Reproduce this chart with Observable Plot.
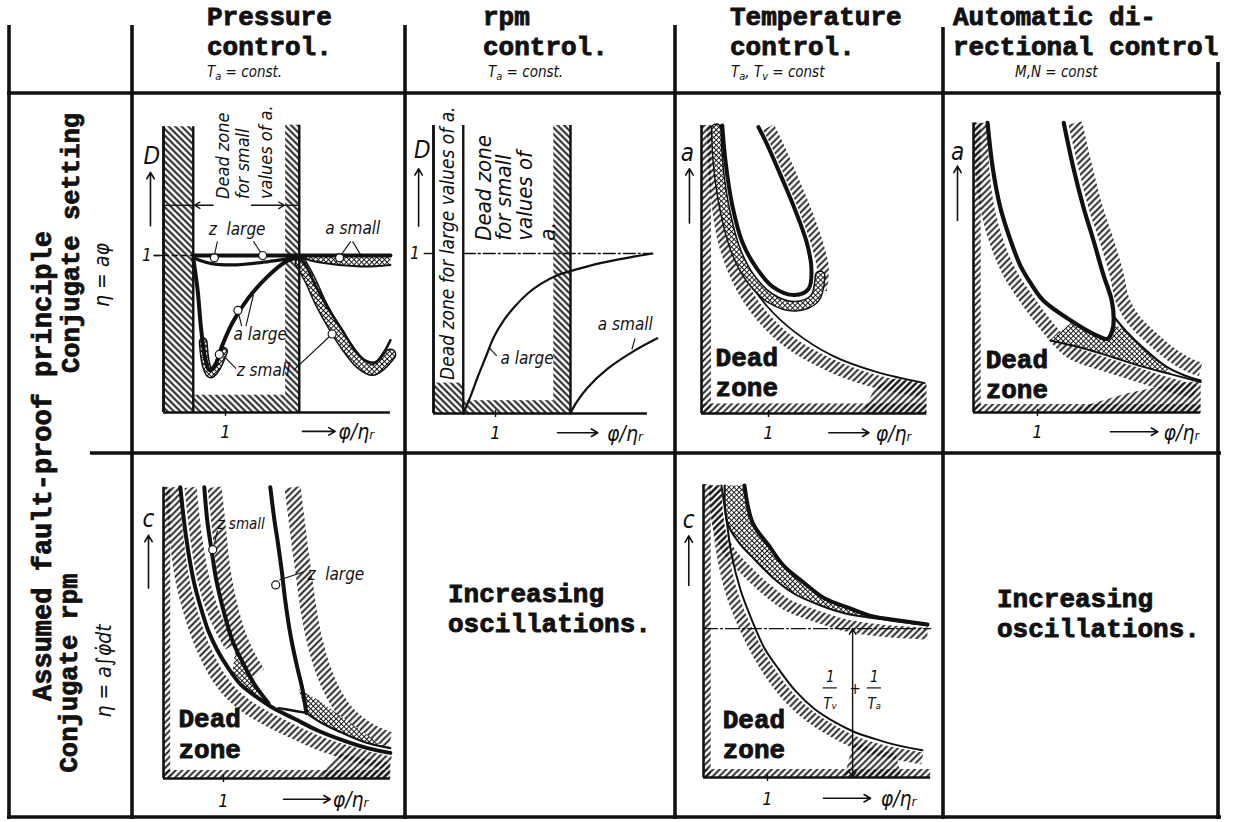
<!DOCTYPE html>
<html><head><meta charset="utf-8">
<script src="https://cdn.jsdelivr.net/npm/d3@7"></script>
<script src="https://cdn.jsdelivr.net/npm/@observablehq/plot@0.6"></script>
<style>
body{margin:0;background:#fff;}
#page{position:relative;width:1233px;height:822px;overflow:hidden;background:#fff;}
.cell{position:absolute;}
</style></head><body>
<svg width="0" height="0" style="position:absolute;left:0;top:0">
<defs>
<pattern id="hA" patternUnits="userSpaceOnUse" width="4.6" height="4.6" patternTransform="rotate(-45)"><line x1="2.3" y1="0" x2="2.3" y2="4.6" stroke="#111" stroke-width="1.9"/></pattern>
<pattern id="hB" patternUnits="userSpaceOnUse" width="4.6" height="4.6" patternTransform="rotate(45)"><line x1="2.3" y1="0" x2="2.3" y2="4.6" stroke="#111" stroke-width="1.8"/></pattern>
<pattern id="xh" patternUnits="userSpaceOnUse" width="3.6" height="3.6" patternTransform="rotate(45)"><rect width="3.6" height="3.6" fill="#fff"/><path d="M0 0H3.6M0 0V3.6" stroke="#111" stroke-width="1.9"/></pattern>
</defs></svg>
<div id="page"></div>
<script>
// ================= DATA =================
const colTitles = [["Pressure","control."],["rpm","control."],["Temperature","control."],["Automatic di-","rectional control"]];
const colSubs = [["T","a"," = const."],["T","a"," = const."],["T","a",", T","v"," = const"],["M,N = const"]];
const rowMain = "Assumed fault-proof principle";
const rowTitles = ["Conjugate setting","Conjugate rpm"];
const rowLaws = ["η = aφ","η = a∫φ̇dt"];
const oscText = ["Increasing","oscillations."];

// Panel 1 - pressure control, conjugate setting (D over φ/ηr)
const p1Zones = [{x1:0,x2:0.48,y1:0,y2:1.82},{x1:1.97,x2:2.19,y1:0,y2:1.83},{x1:0.48,x2:1.97,y1:0,y2:0.11}];
const p1Edges = [[0,0,1.82],[0.48,0,1.82],[2.19,0,1.83]];
const p1One = [[0.48,1],[3.66,1]];
const p1ZLarge = [[0.52,0.98],[0.76,0.95],[1.11,0.94],[1.56,0.955],[2.18,0.99]];
const p1ASmall = [[2.18,0.99],[2.53,0.955],[3.18,0.93],[3.66,0.94],[3.66,1.0],[2.18,1.0]];
const p1DipA = [[0.48,0.98],[0.55,0.78],[0.61,0.52],[0.68,0.33],[0.74,0.27],[0.82,0.29],[0.95,0.43],[1.11,0.57],[1.37,0.73],[1.69,0.87],[1.97,0.96],[2.18,0.99]];
const p1DipABand = [[0.64,0.45],[0.69,0.3],[0.76,0.245],[0.86,0.29],[0.97,0.39]];
const p1DipB = [[2.18,0.99],[2.29,0.94],[2.45,0.81],[2.66,0.66],[2.89,0.52],[3.10,0.39],[3.26,0.33],[3.42,0.32],[3.55,0.38],[3.66,0.46]];
const p1DipBBand = [[2.21,0.955],[2.37,0.84],[2.53,0.70],[2.74,0.55],[2.97,0.41],[3.18,0.31],[3.37,0.27],[3.53,0.31],[3.66,0.37]];
const p1Span = [[0,0.48,1.32],[1.97,2.19,1.32]];
const p1SpanArrows = [[0.8,0.5,1.32],[1.42,1.95,1.32]];
const p1Rot = [{x:0.97,y:1.36,t:"Dead zone"},{x:1.29,y:1.36,t:"for small"},{x:1.65,y:1.36,t:"values of a."}];
const p1Labels = [{x:0.73,y:1.13,t:"z  large"},{x:2.61,y:1.14,t:"a small"},{x:1.13,y:0.46,t:"a large"},{x:1.18,y:0.23,t:"z small"}];
const p1Leaders = [[0.87,1.09,0.82,1.0],[1.45,1.09,1.6,1.0],[3.02,1.09,2.84,0.99],[3.05,1.09,3.2,0.99],[1.26,0.55,1.2,0.65],[1.33,0.55,1.45,0.75],[1.17,0.28,0.97,0.36],[2.1,0.27,2.72,0.5]];
const p1Rings = [[0.82,0.985],[1.6,1.0],[2.84,0.985],[1.2,0.65],[2.72,0.5],[0.9,0.37]];

// Panel 2 - rpm control, conjugate setting
const p2Zones = [{x1:1.94,x2:2.21,y1:0,y2:1.8},{x1:0.48,x2:1.94,y1:0,y2:0.08},{x1:0,x2:0.48,y1:0,y2:0.19}];
const p2Edges = [[0,0,1.8],[0.48,0,1.8],[2.21,0,1.8]];
const p2One = [[0.48,1],[3.53,1]];
const p2ALarge = [[0.48,0],[0.60,0.11],[0.71,0.225],[0.84,0.35],[0.97,0.475],[1.13,0.58],[1.29,0.66],[1.52,0.75],[1.73,0.81],[1.97,0.86],[2.21,0.89],[2.69,0.94],[3.23,0.98],[3.53,1.0]];
const p2ASmall = [[2.21,0],[2.29,0.06],[2.48,0.16],[2.81,0.28],[3.23,0.39],[3.61,0.47]];
const p2Labels = [{x:1.08,y:0.31,t:"a large"},{x:2.65,y:0.52,t:"a small"}];
const p2Leaders = [[0.9,0.41,1.02,0.36],[3.2,0.4,3.25,0.47]];
const p2RotLarge = [{x:0.24,y:0.21,t:"Dead zone for large values of a."}];
const p2RotSmall = [{x:0.81,y:1.08,t:"Dead zone"},{x:1.13,y:1.08,t:"for small"},{x:1.48,y:1.08,t:"values of"},{x:1.84,y:1.08,t:"a."}];

// Panel 3 - temperature control, conjugate setting (a over φ/ηr)
const p3Zones = [{x1:0,x2:0.15,y1:0,y2:1.8},{x1:0,x2:3.36,y1:0,y2:0.06}];
const p3Wedge = [[2.4,0],[3.36,0],[3.36,0.19],[2.9,0.22],[2.6,0.17]];
const p3Outer = [[0.28,1.80],[0.33,1.47],[0.46,1.11],[0.67,0.86],[0.97,0.675],[1.39,0.51],[1.96,0.36],[2.61,0.26],[3.33,0.19]];
const p3OuterBand = [[0.18,1.8],[0.21,1.46],[0.34,1.08],[0.57,0.82],[0.88,0.62],[1.33,0.44],[1.93,0.30],[2.6,0.2],[3.33,0.14]];
const p3Hook = [[0.31,1.80],[0.36,1.57],[0.46,1.30],[0.61,1.07],[0.82,0.91],[1.07,0.79],[1.39,0.74],[1.60,0.78],[1.64,0.91],[1.57,1.07],[1.39,1.28],[1.18,1.49],[0.97,1.69],[0.85,1.79]];
const p3HookBand = [[0.22,1.78],[0.25,1.55],[0.35,1.27],[0.52,1.01],[0.74,0.84],[1.03,0.72],[1.40,0.67],[1.69,0.72],[1.77,0.86]];
const p3HookRight = [[1.0,1.79],[1.12,1.69],[1.33,1.49],[1.54,1.28],[1.72,1.07],[1.81,0.91],[1.78,0.77]];

// Panel 4 - automatic directional control, conjugate setting
const p4Zones = [{x1:0,x2:0.12,y1:0,y2:1.81},{x1:0,x2:3.55,y1:0,y2:0.05}];
const p4Wedge = [[1.5,0],[3.55,0],[3.55,0.2],[3.0,0.17],[2.4,0.12],[1.8,0.05]];
const p4Hook = [[0.22,1.81],[0.30,1.53],[0.42,1.28],[0.58,1.075],[0.73,0.92],[0.89,0.81],[1.09,0.7],[1.52,0.575],[1.88,0.49],[2.09,0.46],[2.16,0.5],[2.19,0.575],[2.16,0.7],[2.03,0.86],[1.875,1.075],[1.72,1.28],[1.56,1.53],[1.41,1.81]];
const p4Lower = [[1.2,0.45],[1.67,0.406],[2.14,0.35],[2.61,0.29],[3.08,0.24],[3.55,0.19]];
const p4Upper = [[2.19,0.6],[2.38,0.51],[2.69,0.39],[3.0,0.29],[3.31,0.23],[3.55,0.2]];
const p4Cross = [[1.2,0.45],[1.52,0.56],[1.88,0.48],[2.09,0.46],[2.17,0.56],[2.38,0.51],[2.69,0.39],[3.0,0.29],[3.08,0.24],[2.61,0.29],[2.14,0.35],[1.67,0.406]];
const p4C1Band = [[0.11,1.81],[0.14,1.51],[0.23,1.25],[0.39,1.03],[0.58,0.86],[0.81,0.72],[1.125,0.55],[1.52,0.38],[1.98,0.31],[2.45,0.25],[3.0,0.18],[3.47,0.13]];
const p4C2Band = [[1.59,1.81],[1.75,1.53],[1.91,1.28],[2.08,1.075],[2.23,0.875],[2.33,0.7],[2.5,0.58],[2.8,0.46],[3.1,0.36],[3.4,0.29],[3.55,0.27]];

// Panel 5 - pressure control, conjugate rpm (c over φ/ηr)
const p5Zones = [{x1:0,x2:0.12,y1:0,y2:1.82},{x1:0,x2:3.78,y1:0,y2:0.05}];
const p5Wedge = [[2.6,0],[3.78,0],[3.78,0.1],[3.3,0.13],[2.9,0.16]];
const p5C1 = [[0.28,1.82],[0.38,1.5],[0.5,1.24],[0.62,1.07],[0.75,0.92],[0.9,0.8],[1.08,0.69],[1.28,0.59],[1.55,0.51],[1.83,0.44],[2.2,0.37],[2.57,0.3],[2.98,0.24],[3.4,0.19],[3.78,0.16]];
const p5C2 = [[0.68,1.82],[0.73,1.61],[0.8,1.43],[0.88,1.24],[1.0,1.05],[1.15,0.86],[1.32,0.725],[1.53,0.58],[1.75,0.47]];
const p5C3 = [[1.78,1.82],[1.85,1.61],[1.9,1.49],[1.97,1.3],[2.03,1.11],[2.12,0.89],[2.22,0.71],[2.32,0.55],[2.38,0.41]];
const p5Knee = [[2.38,0.41],[2.15,0.425],[1.92,0.44]];
const p5Tail = [[2.38,0.41],[2.62,0.35],[2.95,0.29],[3.37,0.225],[3.78,0.19]];
const p5KneeCross = [[2.25,0.56],[2.38,0.41],[2.87,0.30],[3.45,0.21],[3.7,0.19],[3.37,0.28],[2.95,0.39],[2.58,0.49]];
const p5JoinCross = [[1.2,0.82],[1.32,0.725],[1.53,0.58],[1.6,0.5],[1.45,0.54],[1.28,0.59],[1.15,0.66]];
const p5C1BandL = [[0.15,1.82],[0.22,1.49],[0.33,1.21],[0.45,1.04],[0.58,0.89],[0.73,0.76],[0.92,0.63],[1.13,0.53],[1.42,0.44],[1.72,0.375],[2.12,0.3],[2.53,0.23],[2.95,0.175],[3.37,0.13],[3.78,0.094]];
const p5C1BandR = [[0.45,1.82],[0.55,1.49],[0.67,1.24],[0.8,1.07],[0.95,0.94],[1.12,0.825]];
const p5C2Band = [[0.85,1.82],[0.92,1.58],[0.98,1.36],[1.08,1.14],[1.22,0.94],[1.38,0.79],[1.58,0.66]];
const p5C3Band = [[2.15,1.82],[2.22,1.61],[2.28,1.43],[2.35,1.24],[2.42,1.05],[2.52,0.86],[2.65,0.69],[2.82,0.54],[3.05,0.41],[3.37,0.31],[3.7,0.25],[3.78,0.24]];
const p5Labels = [{x:0.9,y:1.56,t:"z small",s:15},{x:2.4,y:1.24,t:"z  large",s:17}];
const p5Rings = [[0.82,1.43],[1.87,1.21]];
const p5Leaders = [[0.85,1.47,0.9,1.55],[1.93,1.24,2.33,1.29]];

// Panel 6 - temperature control, conjugate rpm
const p6Zones = [{x1:0,x2:0.12,y1:0,y2:1.83},{x1:0,x2:3.55,y1:0,y2:0.05}];
const p6Wedge = [[2.2,0],[3.1,0],[3.0,0.15],[2.67,0.18],[2.34,0.22]];
const p6L = [[0.28,1.825],[0.36,1.61],[0.44,1.39],[0.58,1.17],[0.77,0.97],[0.95,0.81],[1.17,0.68],[1.44,0.54],[1.73,0.43],[2.06,0.344],[2.375,0.281],[2.69,0.24],[2.94,0.21],[3.42,0.17]];
const p6LBand = [[0.17,1.825],[0.23,1.59],[0.31,1.37],[0.45,1.14],[0.66,0.93],[0.86,0.77],[1.08,0.63],[1.36,0.49],[1.67,0.38],[2.02,0.29],[2.34,0.225],[2.67,0.18],[2.92,0.156],[3.42,0.119]];
const p6U = [[0.64,1.825],[0.77,1.59],[1.02,1.45],[1.25,1.325],[1.56,1.22],[1.89,1.12],[2.27,1.06],[2.61,1.01],[3.08,0.98],[3.5,0.956]];
const p6U1 = [[0.33,1.825],[0.375,1.59],[0.55,1.47],[0.77,1.375],[1.08,1.25],[1.41,1.15],[1.83,1.075],[2.22,1.025],[2.77,0.99],[3.5,0.95]];
const p6UBand = [[0.2,1.825],[0.23,1.575],[0.39,1.42],[0.625,1.31],[0.94,1.19],[1.3,1.08],[1.75,1.01],[2.17,0.956],[2.77,0.919],[3.5,0.9]];
const p6Level = [[0,0.93],[3.55,0.93]];
const p6Gap = {x:2.33,top:0.93,mid:0.47};
const p6Frac = [{x:1.98,y:0.6,t:"1"},{x:1.98,y:0.43,t:"Tᵥ"},{x:2.67,y:0.6,t:"1"},{x:2.67,y:0.43,t:"Tₐ"},{x:2.37,y:0.52,t:"+"}];
const p6Bars = [[1.87,2.09,0.56],[2.56,2.78,0.56]];

// axis annotations per panel
const axesSpec = [
  {xEnd:3.66,yTop:1.82,name:"D",nx:-0.19,ny:1.58,ux:-0.21,uy:[1.19,1.53],tx:1,ty:-0.16,gx:[2.24,2.77],gy:-0.12,px:2.82,one:{x:-0.27,y:1}},
  {xEnd:3.45,yTop:1.8,name:"D",nx:-0.18,ny:1.6,ux:-0.24,uy:[1.17,1.53],tx:1,ty:-0.16,gx:[2.0,2.65],gy:-0.12,px:2.8,one:{x:-0.3,y:1}},
  {xEnd:3.36,yTop:1.8,name:"a",nx:-0.21,ny:1.58,ux:-0.18,uy:[1.19,1.53],tx:1,ty:-0.16,gx:[1.9,2.5],gy:-0.12,px:2.6},
  {xEnd:3.55,yTop:1.81,name:"a",nx:-0.25,ny:1.58,ux:-0.25,uy:[1.2,1.54],tx:1,ty:-0.16,gx:[2.14,2.88],gy:-0.12,px:2.97},
  {xEnd:3.78,yTop:1.82,name:"c",nx:-0.25,ny:1.57,ux:-0.25,uy:[1.19,1.52],tx:1,ty:-0.18,gx:[2.0,2.78],gy:-0.13,px:2.82},
  {xEnd:3.55,yTop:1.83,name:"c",nx:-0.23,ny:1.56,ux:-0.23,uy:[1.2,1.51],tx:1,ty:-0.17,gx:[1.875,2.61],gy:-0.13,px:2.77}
];
const deadText = [{x:0.21,y:0.30},{x:0.19,y:0.28},{x:0.25,y:0.32},{x:0.3,y:0.31}];

// ================= LAYOUT =================
const INK = "#111";
function pickFont(cands, weight, fallback) {
  const c = document.createElement("canvas").getContext("2d");
  const sample = "Pressure control. mmmwwwiiilll 0123 Dead zone";
  const gens = ["monospace","serif","sans-serif"], base = {};
  for (const g of gens) { c.font = `${weight} 30px ${g}`; base[g] = c.measureText(sample).width; }
  for (const f of cands) {
    for (const g of gens) { c.font = `${weight} 30px "${f}", ${g}`; if (Math.abs(c.measureText(sample).width - base[g]) > 0.01) return `"${f}", ${fallback}`; }
  }
  return fallback;
}
const MONO = pickFont(["Liberation Mono","Courier New","Cousine","Nimbus Mono PS","FreeMono","Courier"],"bold",'"DejaVu Sans Mono", monospace');
const SANS = pickFont(["Liberation Sans Narrow","Arial Narrow","DejaVu Sans Condensed","Roboto Condensed","Liberation Sans","Arial"],"normal",'"DejaVu Sans", sans-serif');
const cells = [[132,93,273,360],[405,93,270,360],[675,93,268,360],[943,93,275,360],[132,453,273,364],[675,453,268,364]];
const origins = [[163,412],[433,413],[701,413],[973,412],[163,778],[703,777]];
const scales = [[62,157],[62,160],[67,160],[64,160],[60,160],[64,160]];

const page = d3.select("#page");

// ---- table grid and headings ----
const ov = page.append("svg").attr("width",1233).attr("height",822).style("position","absolute").style("left","0").style("top","0");
const vLines = [[9,25,819],[132,25,819],[405,25,819],[675,25,819],[943,27,819],[1218,62,819]];
const hLines = [[93,7,1221],[453,90,1221],[817,7,1221]];
ov.selectAll("line.v").data(vLines).join("line").attr("x1",d=>d[0]).attr("x2",d=>d[0]).attr("y1",d=>d[1]).attr("y2",d=>d[2]).attr("stroke",INK).attr("stroke-width",3.6);
ov.selectAll("line.h").data(hLines).join("line").attr("y1",d=>d[0]).attr("y2",d=>d[0]).attr("x1",d=>d[1]).attr("x2",d=>d[2]).attr("stroke",INK).attr("stroke-width",3.6);

const titleX = [207,483,730,953];
colTitles.forEach((lines,i)=>{
  lines.forEach((s,j)=>{
    ov.append("text").attr("x",titleX[i]).attr("y",25+30*j).text(s)
      .attr("font-family",MONO).attr("font-weight","bold").attr("font-size",26)
      .attr("fill",INK).attr("stroke",INK).attr("stroke-width",0.9).style("white-space","pre");
  });
});
const subX = [207,488,731,1015];
colSubs.forEach((parts,i)=>{
  const t = ov.append("text").attr("x",subX[i]).attr("y",77).attr("font-family",SANS).attr("font-style","italic").attr("font-size",15).attr("fill",INK);
  if (parts.length===1) { t.text(parts[0]); return; }
  parts.forEach((p,k)=>{
    const sub = k%2===1;
    t.append("tspan").text(p).attr("font-size",sub?11:15).attr("dy",sub?3:(k>0?-3:0));
  });
});
const rot = (x,y,s,size,opts={}) => ov.append("text").attr("transform",`translate(${x},${y}) rotate(-90)`).attr("text-anchor","middle").text(s)
  .attr("font-family",opts.family||MONO).attr("font-weight",opts.weight||"bold").attr("font-style",opts.style||"normal")
  .attr("font-size",size).attr("fill",INK).attr("stroke",opts.family?null:INK).attr("stroke-width",opts.family?null:0.8);
rot(51,466,rowMain,27);
rot(79,243,rowTitles[0],25.5);
rot(77,673,rowTitles[1],25.5);
rot(109,275,rowLaws[0],21,{family:SANS,weight:"normal",style:"italic"});
rot(111,671,rowLaws[1],21,{family:SANS,weight:"normal",style:"italic"});
[[448,602],[997,607]].forEach(([x,y])=>{
  oscText.forEach((s,j)=>ov.append("text").attr("x",x).attr("y",y+30*j).text(s)
    .attr("font-family",MONO).attr("font-weight","bold").attr("font-size",26).attr("fill",INK).attr("stroke",INK).attr("stroke-width",0.9));
});

// ---- mark helpers ----
const cr = "catmull-rom";
const curve = (d,w) => Plot.line(d,{curve:cr,stroke:INK,strokeWidth:w,strokeLinecap:"round",strokeLinejoin:"round"});
const band = (d,w,pat="hB") => Plot.line(d,{curve:cr,stroke:`url(#${pat})`,strokeWidth:w,strokeLinecap:"butt",strokeLinejoin:"round"});
const xband = (d,w) => [Plot.line(d,{curve:cr,stroke:INK,strokeWidth:w+3,strokeLinecap:"round"}),Plot.line(d,{curve:cr,stroke:"url(#xh)",strokeWidth:w,strokeLinecap:"round"})];
const poly = (d,pat) => Plot.line(d,{curve:"linear-closed",fill:`url(#${pat})`,stroke:"none"});
const zones = (d,pat) => Plot.rect(d,{x1:"x1",x2:"x2",y1:"y1",y2:"y2",fill:`url(#${pat})`});
const edges = (d,w=2.4) => Plot.ruleX(d,{x:d=>d[0],y1:d=>d[1],y2:d=>d[2],stroke:INK,strokeWidth:w});
const links = (d,w=1.1) => Plot.link(d,{x1:d=>d[0],y1:d=>d[1],x2:d=>d[2],y2:d=>d[3],stroke:INK,strokeWidth:w});
const rings = (d) => Plot.dot(d,{r:4,stroke:INK,strokeWidth:1.2,fill:"white"});
const labels = (d,o={}) => Plot.text(d,{x:"x",y:"y",text:"t",fill:INK,fontFamily:SANS,fontStyle:"italic",fontSize:17,textAnchor:"start",lineAnchor:"bottom",...o});
const dead = (p) => Plot.text([{t:"Dead",dy:0},{t:"zone",dy:1}],{x:p.x,y:d=>p.y-d.dy*0.19,text:"t",fill:INK,stroke:INK,strokeWidth:0.9,fontFamily:MONO,fontWeight:"bold",fontSize:26,textAnchor:"start",lineAnchor:"bottom"});

function axes(a){
  const m = [
    Plot.ruleY([0],{x1:0,x2:a.xEnd,stroke:INK,strokeWidth:2.6}),
    Plot.ruleX([0],{y1:0,y2:a.yTop,stroke:INK,strokeWidth:2.6}),
    Plot.text([a.name],{x:a.nx,y:a.ny,text:d=>d,fill:INK,fontFamily:SANS,fontStyle:"italic",fontSize:24,lineAnchor:"bottom"}),
    Plot.arrow([0],{x1:a.ux,x2:a.ux,y1:a.uy[0],y2:a.uy[1],stroke:INK,strokeWidth:1.6,headLength:7}),
    Plot.ruleX([a.tx],{y1:-0.025,y2:0.02,stroke:INK,strokeWidth:1.4}),
    Plot.text(["1"],{x:a.tx,y:a.ty,text:d=>d,fill:INK,fontFamily:SANS,fontStyle:"italic",fontSize:18,lineAnchor:"bottom"}),
    Plot.arrow([0],{x1:a.gx[0],x2:a.gx[1],y1:a.gy,y2:a.gy,stroke:INK,strokeWidth:1.6,headLength:7}),
    Plot.text(["φ/ηᵣ"],{x:a.px,y:a.gy-0.05,text:d=>d,fill:INK,fontFamily:SANS,fontStyle:"italic",fontSize:21,textAnchor:"start",lineAnchor:"bottom"})
  ];
  if (a.one) m.push(
    Plot.text(["1"],{x:a.one.x,y:a.one.y,text:d=>d,fill:INK,fontFamily:SANS,fontStyle:"italic",fontSize:17}),
    Plot.ruleY([a.one.y],{x1:-0.15,x2:0,stroke:INK,strokeWidth:1.4}));
  return m;
}

function panel(i, marks){
  const [cx,cy,cw,ch] = cells[i], [ox,oy] = origins[i], [sx,sy] = scales[i];
  const ml = ox-cx, mb = cy+ch-oy;
  const svg = Plot.plot({
    width:cw, height:ch, marginLeft:ml, marginRight:0, marginTop:0, marginBottom:mb,
    x:{domain:[0,(cw-ml)/sx], axis:null},
    y:{domain:[0,(oy-cy)/sy], axis:null},
    style:{background:"transparent", overflow:"visible"},
    marks
  });
  page.append("div").attr("class","cell").style("left",cx+"px").style("top",cy+"px").node().appendChild(svg);
}

panel(0,[
  zones(p1Zones,"hA"),
  poly(p1ASmall,"xh"),
  xband(p1DipABand,6), xband(p1DipBBand,9),
  edges(p1Edges),
  Plot.ruleY([1],{x1:-0.15,x2:0.48,stroke:INK,strokeWidth:1.3,strokeDasharray:"6 3"}),
  curve(p1One,4), curve(p1ZLarge,3.2), curve(p1ASmall.slice(0,4),2), curve(p1DipA,4), curve(p1DipB,2.6),
  Plot.ruleY(p1Span,{x1:d=>d[0],x2:d=>d[1],y:d=>d[2],stroke:INK,strokeWidth:1.3}),
  Plot.arrow(p1SpanArrows,{x1:d=>d[0],x2:d=>d[1],y1:d=>d[2],y2:d=>d[2],stroke:INK,strokeWidth:1.4,headLength:7}),
  links(p1Leaders), rings(p1Rings),
  labels(p1Rot,{rotate:-90,lineAnchor:"middle",fontSize:18}),
  labels(p1Labels),
  ...axes(axesSpec[0])
]);

panel(1,[
  zones(p2Zones,"hA"),
  edges(p2Edges),
  Plot.line(p2One,{stroke:INK,strokeWidth:1.3,strokeDasharray:"12 3 2 3"}),
  curve(p2ALarge,2.2), curve(p2ASmall,2.2),
  links(p2Leaders),
  labels(p2Labels),
  labels(p2RotLarge,{rotate:-90,lineAnchor:"middle",fontSize:19}),
  labels(p2RotSmall,{rotate:-90,lineAnchor:"middle",fontSize:22}),
  ...axes(axesSpec[1])
]);

panel(2,[
  zones(p3Zones,"hB"), poly(p3Wedge,"hB"),
  band(p3OuterBand,13), band(p3HookRight,12),
  curve(p3Outer,1.8),
  xband(p3HookBand,8),
  curve(p3Hook,4),
  dead(deadText[0]),
  ...axes(axesSpec[2])
]);

panel(3,[
  zones(p4Zones,"hB"), poly(p4Wedge,"hB"),
  band(p4C1Band,14), band(p4C2Band,14),
  poly(p4Cross,"xh"),
  curve(p4Lower,2), curve(p4Upper,2.2),
  curve(p4Hook,4.2),
  dead(deadText[1]),
  ...axes(axesSpec[3])
]);

panel(4,[
  zones(p5Zones,"hB"), poly(p5Wedge,"hB"),
  band(p5C1BandL,14), band(p5C1BandR,12), band(p5C2Band,14), band(p5C3Band,16),
  poly(p5KneeCross,"xh"), poly(p5JoinCross,"xh"),
  curve(p5C1,4), curve(p5C2,4), curve(p5C3,4), curve(p5Knee,2.4), curve(p5Tail,2.2),
  links(p5Leaders), rings(p5Rings),
  labels(p5Labels,{fontSize:d=>d.s}),
  dead(deadText[2]),
  ...axes(axesSpec[4])
]);

panel(5,[
  zones(p6Zones,"hB"), poly(p6Wedge,"hB"),
  band(p6LBand,12), band(p6UBand,12),
  poly([...p6U, ...p6U1.slice().reverse()],"xh"),
  curve(p6L,2), curve(p6U1,2), curve(p6U,4),
  Plot.line(p6Level,{stroke:INK,strokeWidth:1.3,strokeDasharray:"14 3 2 3"}),
  Plot.arrow([p6Gap],{x1:"x",x2:"x",y1:"mid",y2:"top",stroke:INK,strokeWidth:1.4,headLength:7}),
  Plot.arrow([p6Gap],{x1:"x",x2:"x",y1:"mid",y2:()=>0,stroke:INK,strokeWidth:1.4,headLength:7}),
  Plot.ruleY(p6Bars,{x1:d=>d[0],x2:d=>d[1],y:d=>d[2],stroke:INK,strokeWidth:1.2}),
  labels(p6Frac,{textAnchor:"middle",fontSize:15}),
  dead(deadText[3]),
  ...axes(axesSpec[5])
]);
</script>
</body></html>
